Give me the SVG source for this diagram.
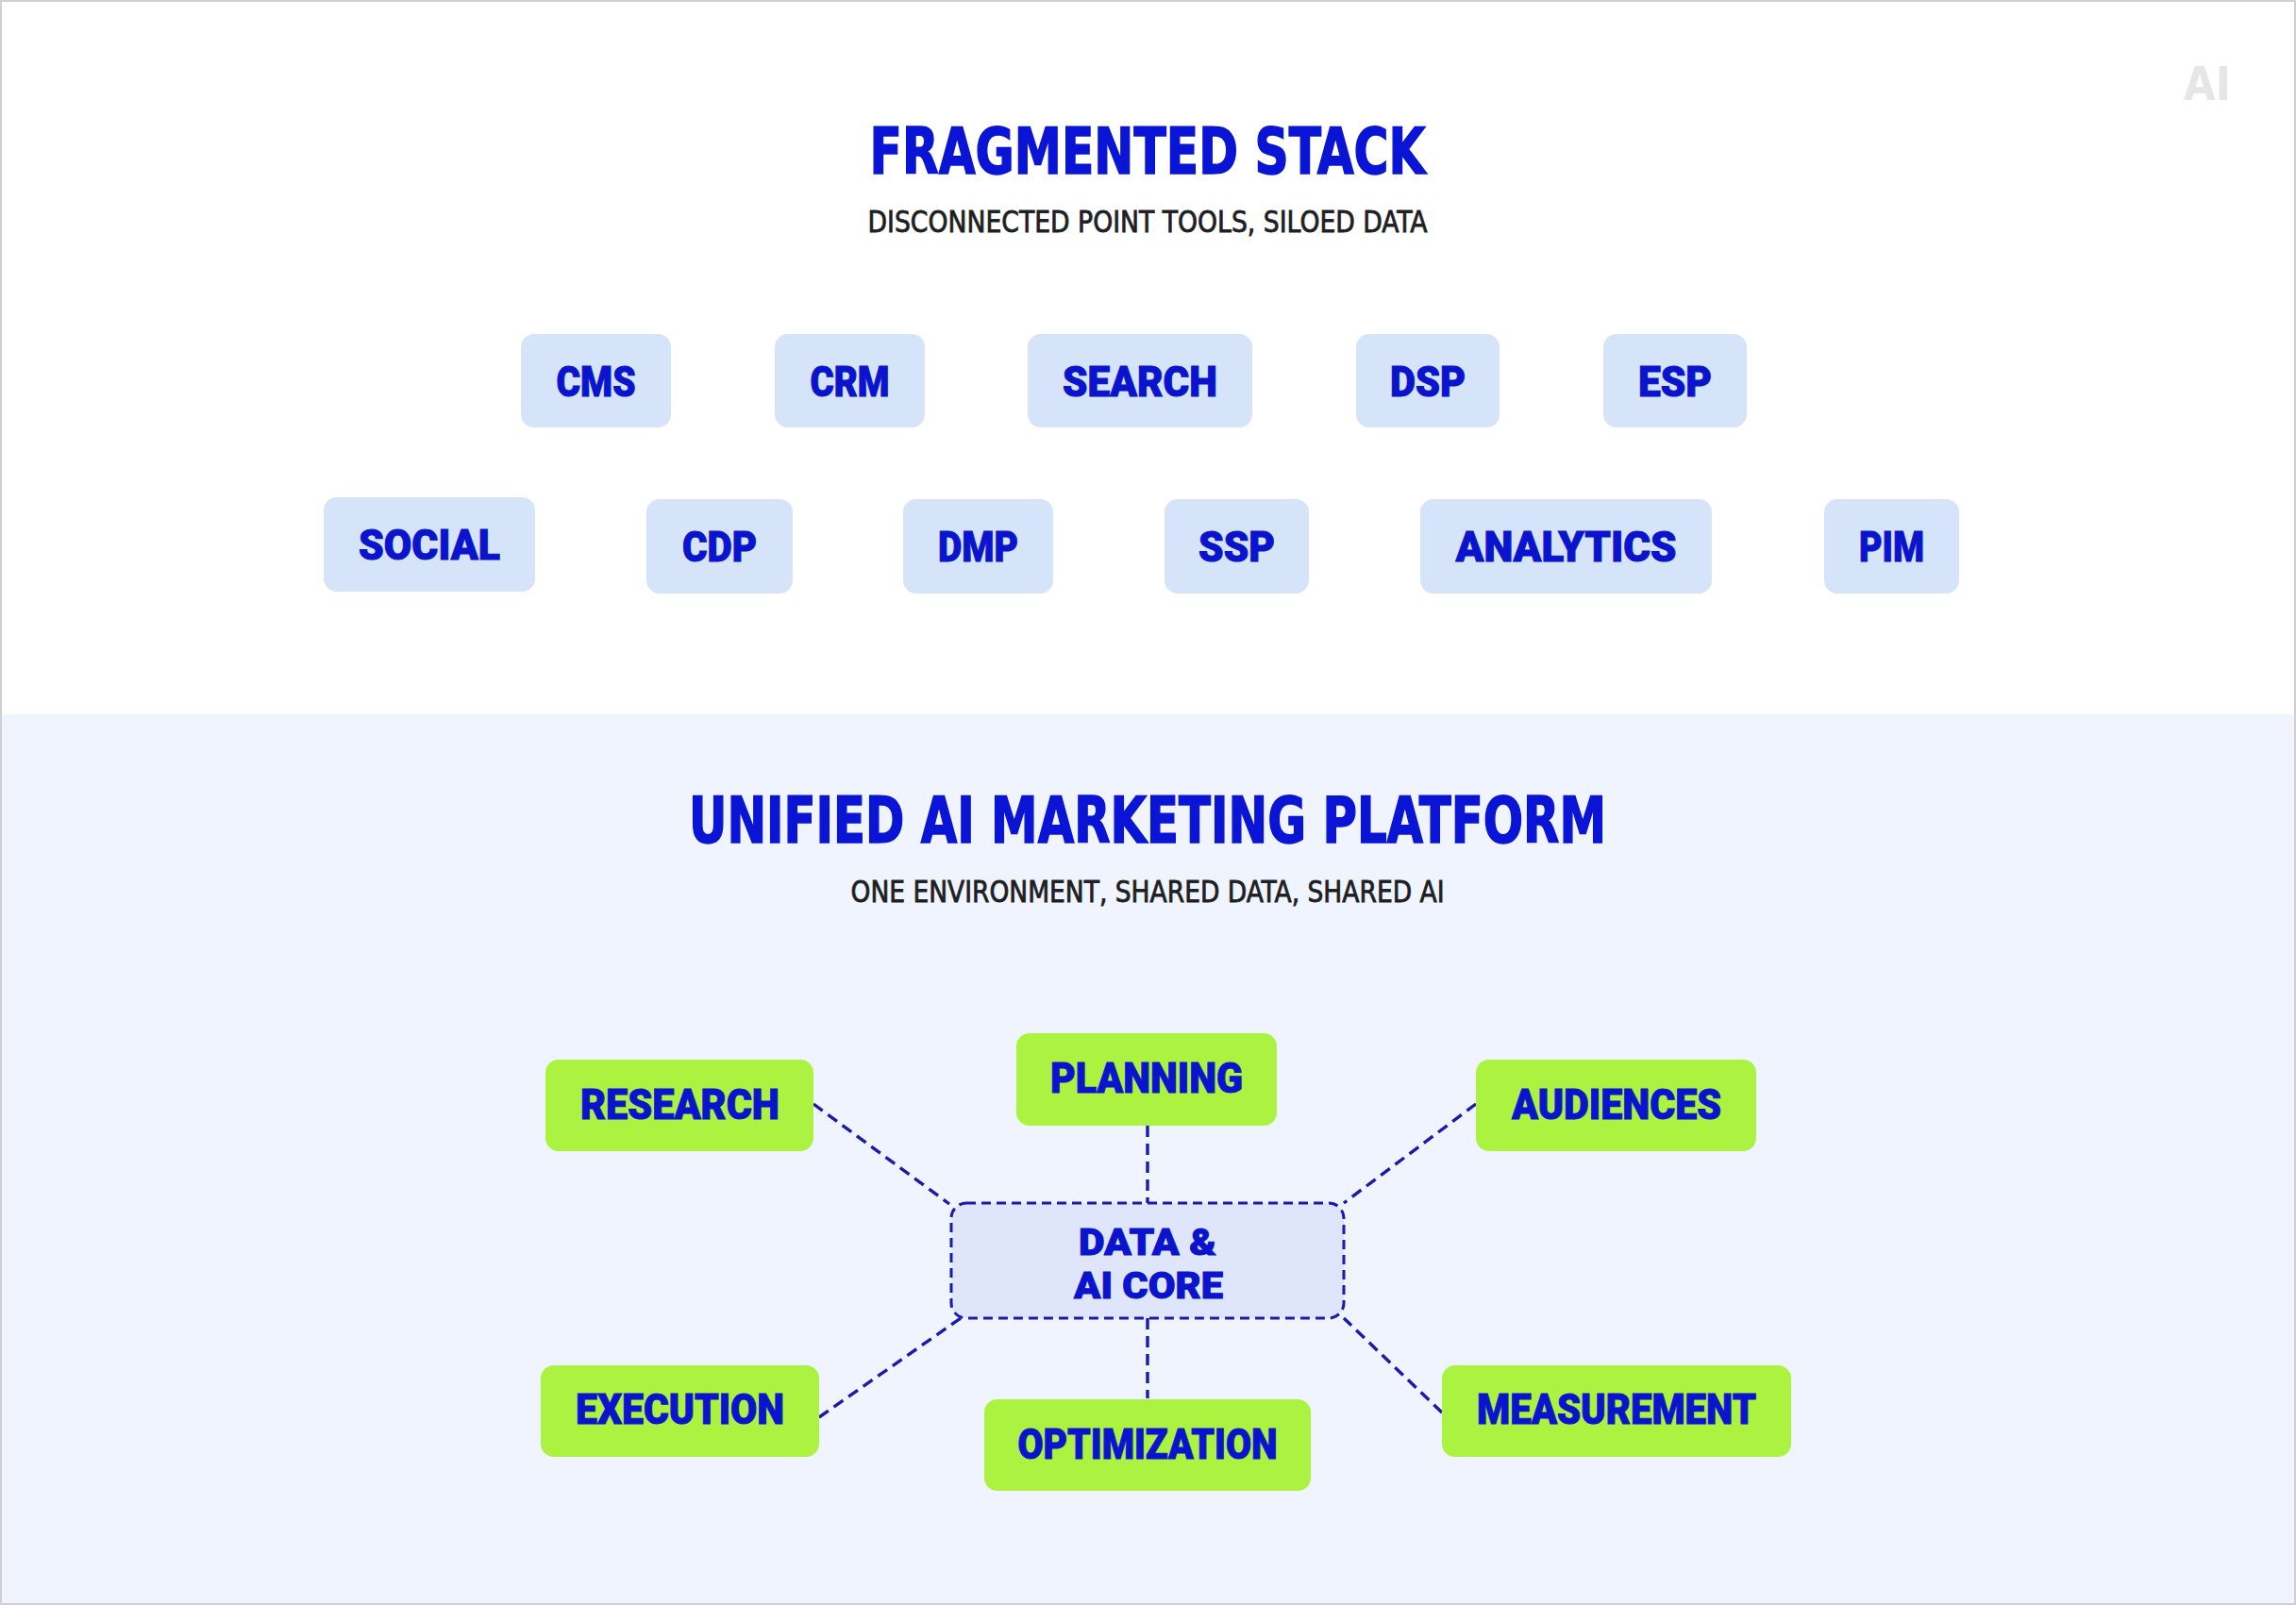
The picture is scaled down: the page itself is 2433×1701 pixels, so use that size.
<svg xmlns="http://www.w3.org/2000/svg" width="2433" height="1701" viewBox="0 0 2433 1701">
<style>
.title{font-family:"DejaVu Sans Condensed","Liberation Sans Narrow",sans-serif;font-weight:bold;font-size:68px;fill:#0a14d4;stroke:#0a14d4;stroke-width:1.5;text-anchor:middle}
.sub{font-family:"DejaVu Sans Condensed","Liberation Sans Narrow",sans-serif;font-size:32px;fill:#1e1e24;stroke:#1e1e24;stroke-width:0.8;text-anchor:middle}
.tool rect{fill:#d5e4f8}
.stage rect{fill:#acf240}
.lbl{font-family:Roboto,"Liberation Sans",sans-serif;font-weight:900;font-size:45px;fill:#0a14cc;stroke:#0a14cc;stroke-width:1;text-anchor:middle}
.core{font-size:39px}
.conn line{stroke:#1a1aae;stroke-width:3.4;stroke-dasharray:12 7;fill:none}
</style>
<rect x="0" y="0" width="2433" height="1701" fill="#ffffff"/>
<rect x="0" y="757" width="2433" height="944" fill="#eff4fe"/>
<rect x="1" y="1" width="2431" height="1699" fill="none" stroke="#cfcfcf" stroke-width="2"/>
<text x="2339" y="106" font-family="DejaVu Sans Condensed,sans-serif" font-weight="bold" font-size="50" fill="#e6e6e6" text-anchor="middle" textLength="50" lengthAdjust="spacingAndGlyphs">AI</text>

<g id="header-top">
<text class="title" x="1216" y="184" textLength="589" lengthAdjust="spacingAndGlyphs">FRAGMENTED STACK</text>
<text class="sub" x="1216" y="246" textLength="593" lengthAdjust="spacingAndGlyphs">DISCONNECTED POINT TOOLS, SILOED DATA</text>
</g>

<g id="cms" class="tool"><rect x="552" y="354" width="159" height="99" rx="14"/><text class="lbl" x="631.5" y="420" textLength="84" lengthAdjust="spacingAndGlyphs">CMS</text></g>
<g id="crm" class="tool"><rect x="821" y="354" width="159" height="99" rx="14"/><text class="lbl" x="900.5" y="420" textLength="84" lengthAdjust="spacingAndGlyphs">CRM</text></g>
<g id="search" class="tool"><rect x="1089" y="354" width="238" height="99" rx="14"/><text class="lbl" x="1208" y="420" textLength="164" lengthAdjust="spacingAndGlyphs">SEARCH</text></g>
<g id="dsp" class="tool"><rect x="1437" y="354" width="152" height="99" rx="14"/><text class="lbl" x="1513" y="420" textLength="80" lengthAdjust="spacingAndGlyphs">DSP</text></g>
<g id="esp" class="tool"><rect x="1699" y="354" width="152" height="99" rx="14"/><text class="lbl" x="1775" y="420" textLength="78" lengthAdjust="spacingAndGlyphs">ESP</text></g>

<g id="social" class="tool"><rect x="343" y="527" width="224" height="100" rx="14"/><text class="lbl" x="455" y="593" textLength="150" lengthAdjust="spacingAndGlyphs">SOCIAL</text></g>
<g id="cdp" class="tool"><rect x="685" y="529" width="155" height="100" rx="14"/><text class="lbl" x="762.5" y="595" textLength="79" lengthAdjust="spacingAndGlyphs">CDP</text></g>
<g id="dmp" class="tool"><rect x="957" y="529" width="159" height="100" rx="14"/><text class="lbl" x="1036.5" y="595" textLength="85" lengthAdjust="spacingAndGlyphs">DMP</text></g>
<g id="ssp" class="tool"><rect x="1234" y="529" width="153" height="100" rx="14"/><text class="lbl" x="1310.5" y="595" textLength="81" lengthAdjust="spacingAndGlyphs">SSP</text></g>
<g id="analytics" class="tool"><rect x="1505" y="529" width="309" height="100" rx="14"/><text class="lbl" x="1659.5" y="595" textLength="234" lengthAdjust="spacingAndGlyphs">ANALYTICS</text></g>
<g id="pim" class="tool"><rect x="1933" y="529" width="143" height="100" rx="14"/><text class="lbl" x="2004.5" y="595" textLength="69" lengthAdjust="spacingAndGlyphs">PIM</text></g>

<g id="header-bottom">
<text class="title" x="1216" y="893" textLength="972" lengthAdjust="spacingAndGlyphs">UNIFIED AI MARKETING PLATFORM</text>
<text class="sub" x="1216" y="956" textLength="629" lengthAdjust="spacingAndGlyphs">ONE ENVIRONMENT, SHARED DATA, SHARED AI</text>
</g>

<g id="connectors" class="conn">
<line x1="862" y1="1170" x2="1006" y2="1276"/>
<line x1="1216" y1="1193" x2="1216" y2="1275"/>
<line x1="1564" y1="1170" x2="1424" y2="1275"/>
<line x1="868" y1="1502" x2="1018" y2="1397"/>
<line x1="1216" y1="1397" x2="1216" y2="1482"/>
<line x1="1528" y1="1497" x2="1424" y2="1397"/>
</g>

<g id="core">
<rect x="1008" y="1275" width="416" height="122" rx="16" fill="#dfe6fb" stroke="#1a1aae" stroke-width="3" stroke-dasharray="10 6"/>
<text class="lbl core" x="1216" y="1330" textLength="146" lengthAdjust="spacingAndGlyphs">DATA &amp;</text>
<text class="lbl core" x="1217" y="1376" textLength="158" lengthAdjust="spacingAndGlyphs">AI CORE</text>
</g>

<g id="research" class="stage"><rect x="578" y="1123" width="284" height="97" rx="14"/><text class="lbl" x="720.5" y="1186" textLength="211" lengthAdjust="spacingAndGlyphs">RESEARCH</text></g>
<g id="planning" class="stage"><rect x="1077" y="1095" width="276" height="98" rx="14"/><text class="lbl" x="1215" y="1158" textLength="204" lengthAdjust="spacingAndGlyphs">PLANNING</text></g>
<g id="audiences" class="stage"><rect x="1564" y="1123" width="297" height="97" rx="14"/><text class="lbl" x="1713" y="1186" textLength="222" lengthAdjust="spacingAndGlyphs">AUDIENCES</text></g>
<g id="execution" class="stage"><rect x="573" y="1447" width="295" height="97" rx="14"/><text class="lbl" x="720.5" y="1509" textLength="221" lengthAdjust="spacingAndGlyphs">EXECUTION</text></g>
<g id="optimization" class="stage"><rect x="1043" y="1483" width="346" height="97" rx="14"/><text class="lbl" x="1216" y="1546" textLength="275" lengthAdjust="spacingAndGlyphs">OPTIMIZATION</text></g>
<g id="measurement" class="stage"><rect x="1528" y="1447" width="370" height="97" rx="14"/><text class="lbl" x="1713" y="1509" textLength="296" lengthAdjust="spacingAndGlyphs">MEASUREMENT</text></g>
</svg>
